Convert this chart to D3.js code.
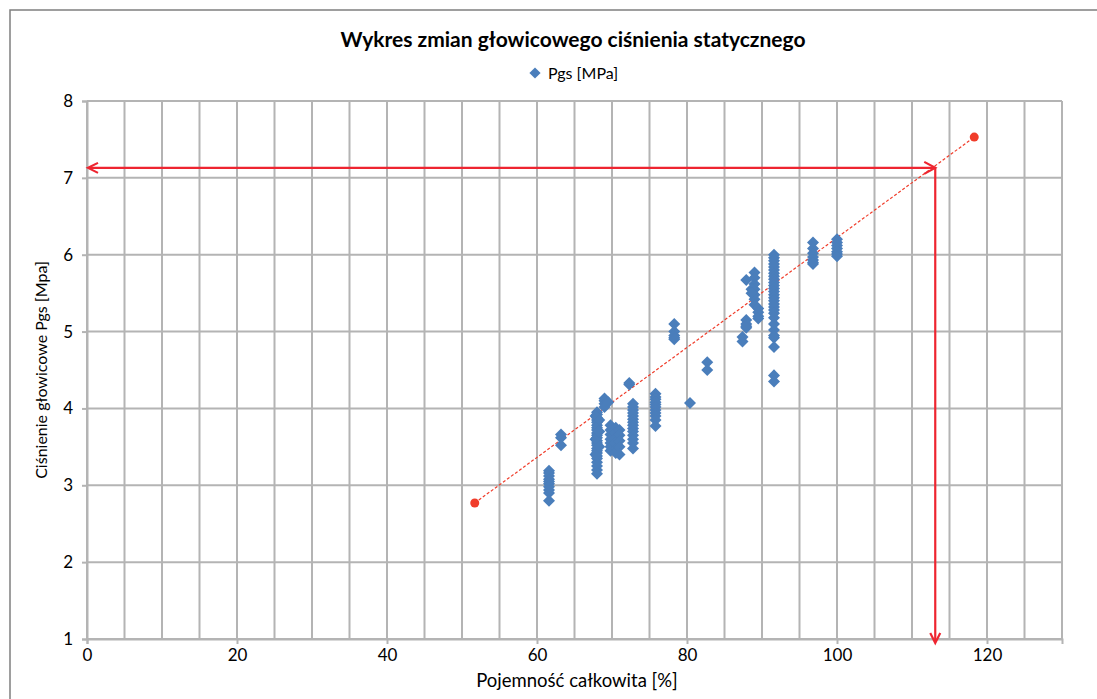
<!DOCTYPE html>
<html><head><meta charset="utf-8">
<script src="https://cdn.jsdelivr.net/npm/d3@7"></script>
<style>
body{margin:0;background:#fff;}
svg{display:block;}
text{font-family:Lato,"Open Sans",sans-serif;fill:#000;}
</style></head>
<body><svg id="c" width="1097" height="699"></svg>
<script>
// ---- data ----
const title = "Wykres zmian głowicowego ciśnienia statycznego";
const seriesName = "Pgs [MPa]";
const xTitle = "Pojemność całkowita [%]";
const yTitle = "Ciśnienie głowicowe Pgs [Mpa]";
const xTicks = [0, 20, 40, 60, 80, 100, 120];
const yTicks = [1, 2, 3, 4, 5, 6, 7, 8];
const pgsX = [
 61.6,61.6,61.6,61.6,61.6,61.6,61.6,61.6,61.6,61.6,
 63.2,63.2,63.2,
 68.0,68.0,68.0,68.0,68.0,68.0,68.0,68.0,68.0,68.0,68.0,68.0,68.0,68.0,68.0,68.0,68.0,68.0,68.0,68.0,68.0,68.0,68.0,
 67.8,67.8,67.8,68.3,68.3,68.3,
 69.0,69.0,69.0,69.0,69.5,
 69.8,69.8,69.8,69.8,69.8,69.8,69.8,
 70.5,70.5,70.5,70.5,70.5,70.5,
 71.0,71.0,71.0,71.0,71.0,
 72.3,72.3,
 72.8,72.8,72.8,72.8,72.8,72.8,72.8,72.8,72.8,72.8,72.8,72.8,72.8,72.8,
 75.8,75.8,75.8,75.8,75.8,75.8,75.8,75.8,75.8,75.8,75.8,
 78.3,78.3,78.3,78.3,78.3,
 80.4,
 82.7,82.7,
 87.4,87.4,
 87.9,87.9,87.9,87.9,87.9,
 89.0,89.0,89.0,89.0,89.0,89.0,89.0,
 89.5,89.5,89.5,89.5,
 88.6,88.6,
 91.6,91.6,91.6,91.6,91.6,91.6,91.6,91.6,91.6,91.6,91.6,91.6,91.6,91.6,91.6,91.6,91.6,91.6,91.6,91.6,91.6,91.6,91.6,91.6,91.6,91.6,91.6,91.6,
 96.8,96.8,96.8,96.8,96.8,96.8,96.8,
 100.0,100.0,100.0,100.0,100.0,100.0,100.0
];
const pgsY = [
 3.19,3.16,3.12,3.08,3.05,3.02,2.98,2.94,2.90,2.80,
 3.66,3.62,3.52,
 3.95,3.92,3.88,3.85,3.82,3.78,3.75,3.72,3.68,3.65,3.62,3.58,3.55,3.52,3.48,3.45,3.42,3.38,3.35,3.30,3.25,3.20,3.15,
 3.90,3.60,3.40,3.85,3.70,3.50,
 4.13,4.10,4.06,4.02,4.08,
 3.78,3.72,3.66,3.60,3.55,3.50,3.45,
 3.75,3.68,3.62,3.55,3.48,3.42,
 3.72,3.65,3.58,3.50,3.40,
 4.33,4.31,
 4.06,4.02,3.98,3.94,3.90,3.86,3.82,3.78,3.74,3.70,3.65,3.60,3.55,3.48,
 4.19,4.15,4.12,4.08,4.05,4.02,3.98,3.94,3.90,3.85,3.77,
 5.10,5.00,4.95,4.92,4.90,
 4.07,
 4.60,4.50,
 4.93,4.87,
 5.67,5.15,5.10,5.07,5.05,
 5.77,5.70,5.62,5.55,5.48,5.42,5.35,
 5.30,5.25,5.20,5.17,
 5.55,5.50,
 6.00,5.96,5.92,5.88,5.84,5.80,5.76,5.72,5.68,5.64,5.60,5.56,5.52,5.48,5.44,5.40,5.36,5.32,5.28,5.24,5.18,5.10,5.02,4.95,4.92,4.80,4.43,4.35,
 6.16,6.08,6.02,5.97,5.93,5.90,5.88,
 6.20,6.16,6.12,6.08,6.04,6.01,5.98
];
const trendX = [51.7, 118.3];
const trendY = [2.77, 7.53];
const markX = 113.1, markY = 7.13;

// ---- drawing ----
const svg = d3.select("#c");
const W = 1097, H = 699;
const m = {l: 87, r: 1062, t: 101, b: 639};
const x = d3.scaleLinear().domain([0, 130]).range([m.l, m.r]);
const y = d3.scaleLinear().domain([1, 8]).range([m.b, m.t]);

svg.append("rect").attr("x", 10).attr("y", 10).attr("width", W + 20).attr("height", H + 20)
  .attr("fill", "#fff").attr("stroke", "#7f7f7f").attr("stroke-width", 1.5);

const gridColor = "#b4b4b4";
const g = svg.append("g");
g.selectAll("line.vg").data(d3.range(0, 131, 5)).join("line")
  .attr("x1", d => x(d)).attr("x2", d => x(d)).attr("y1", m.t).attr("y2", m.b)
  .attr("stroke", gridColor).attr("stroke-width", 2);
g.selectAll("line.hg").data(yTicks).join("line")
  .attr("y1", d => y(d)).attr("y2", d => y(d)).attr("x1", m.l).attr("x2", m.r)
  .attr("stroke", gridColor).attr("stroke-width", 2);

// axes
const xAxis = d3.axisBottom(x).tickValues(xTicks).tickFormat(d3.format("d")).tickSize(5).tickPadding(5);
const yAxis = d3.axisLeft(y).tickValues(yTicks).tickFormat(d3.format("d")).tickSize(5).tickPadding(9);
const gx = svg.append("g").attr("transform", `translate(0,${m.b})`).call(xAxis);
const gy = svg.append("g").attr("transform", `translate(${m.l},0)`).call(yAxis);
[gx, gy].forEach(a => {
  a.select(".domain").attr("stroke", gridColor).attr("stroke-width", 2);
  a.selectAll(".tick line").attr("stroke", gridColor).attr("stroke-width", 2);
  a.selectAll(".tick text").attr("font-family", "Lato, sans-serif").attr("font-size", 17).attr("fill", "#000");
});
gx.selectAll(".tick line").attr("y1", -1);

// trend line
svg.append("line")
  .attr("x1", x(trendX[0])).attr("y1", y(trendY[0])).attr("x2", x(trendX[1])).attr("y2", y(trendY[1]))
  .attr("stroke", "#f03c2a").attr("stroke-width", 1.2).attr("stroke-dasharray", "3,2");

// data points
const diamond = d3.symbol().type(d3.symbolDiamond2).size(92);
svg.append("g").selectAll("path").data(pgsX.map((d, i) => [d, pgsY[i]])).join("path")
  .attr("d", diamond)
  .attr("transform", d => `translate(${x(d[0])},${y(d[1])})`)
  .attr("fill", "#4a7ebb");

// trend endpoints
svg.append("g").selectAll("circle").data(trendX.map((d, i) => [d, trendY[i]])).join("circle")
  .attr("cx", d => x(d[0])).attr("cy", d => y(d[1])).attr("r", 4.5).attr("fill", "#f03c2a");

// arrows
const red = "#ee2530";
const ax = x(markX), ay = y(markY);
svg.append("line").attr("x1", x(0) + 2).attr("y1", ay).attr("x2", ax).attr("y2", ay)
  .attr("stroke", red).attr("stroke-width", 2.2);
svg.append("line").attr("x1", ax).attr("y1", ay).attr("x2", ax).attr("y2", y(1) + 3)
  .attr("stroke", red).attr("stroke-width", 2.2);
function head(px, py, dx, dy, len, w) {
  const nx = -dy, ny = dx;
  const p = d3.path();
  p.moveTo(px - dx * len + nx * w, py - dy * len + ny * w);
  p.lineTo(px, py);
  p.lineTo(px - dx * len - nx * w, py - dy * len - ny * w);
  svg.append("path").attr("d", p.toString()).attr("fill", "none")
    .attr("stroke", red).attr("stroke-width", 2.2).attr("stroke-linejoin", "miter");
}
head(x(0) + 1, ay, -1, 0, 10, 5);
head(ax, y(1) + 4, 0, 1, 10, 5);
head(ax, ay, 1, 0, 11, 6);

// title & legend
svg.append("text").attr("x", 573).attr("y", 47).attr("text-anchor", "middle")
  .attr("font-size", 21).attr("font-weight", "bold").text(title);
svg.append("path").attr("d", d3.symbol().type(d3.symbolDiamond2).size(80))
  .attr("transform", "translate(535,73)").attr("fill", "#4a7ebb");
svg.append("text").attr("x", 548).attr("y", 79).attr("font-size", 16).text(seriesName);

// axis titles
svg.append("text").attr("x", 577).attr("y", 687).attr("text-anchor", "middle")
  .attr("font-size", 18.5).text(xTitle);
svg.append("text").attr("transform", `translate(47,${(m.t + m.b) / 2}) rotate(-90)`)
  .attr("text-anchor", "middle").attr("font-size", 16).text(yTitle);
</script></body></html>
